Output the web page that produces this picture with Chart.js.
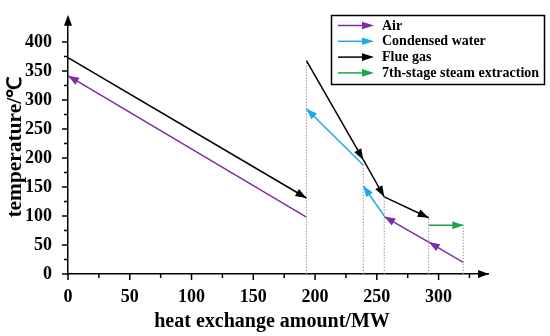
<!DOCTYPE html>
<html>
<head>
<meta charset="utf-8">
<script src="https://cdn.jsdelivr.net/npm/chart.js@4/dist/chart.umd.min.js"></script>
<style>
  html, body { margin: 0; padding: 0; background: #fff; }
  #wrap { width: 550px; height: 336px; }
</style>
</head>
<body>
<div id="wrap"><canvas id="chart"></canvas></div>
<script>
// each segment: [fromX, fromY, toX, toY], arrowhead at the "to" end
const airSegments = [[193, 98, 0, 342], [320, 20, 292, 55], [292, 55, 256, 99]];
const waterSegments = [[239, 188, 193, 285], [256, 100, 239, 152]];
const flueSegments = [[0, 373, 193, 131], [193, 368, 239, 197], [239, 197, 256, 133], [256, 133, 292, 97]];
const steamSegments = [[292, 84, 320, 84]];

// dotted boundary lines between exchangers
const boundaryX = [193, 239, 256, 292, 320];
const boundaryTop = [368, 188, 133, 97, 84];

const xTicks = [0, 50, 100, 150, 200, 250, 300];
const yTicks = [0, 50, 100, 150, 200, 250, 300, 350, 400];

const seriesNames = ['Air', 'Condensed water', 'Flue gas', '7th-stage steam extraction'];
const seriesColors = ['#7d2ea6', '#1ea9e8', '#000000', '#1aa64a'];

const FONT = '"Liberation Serif", "Times New Roman", serif';

const datasets = [];
boundaryX.forEach((x, i) => {
    datasets.push({
        data: [{ x: x, y: 0 }, { x: x, y: boundaryTop[i] }],
        borderColor: '#9a9a9a',
        borderWidth: 1,
        borderDash: [1.5, 1.5],
        showLine: true,
        pointRadius: 0
    });
});
[airSegments, waterSegments, flueSegments, steamSegments].forEach((segs, s) => {
    segs.forEach(seg => {
        datasets.push({
            data: [{ x: seg[0], y: seg[1] }, { x: seg[2], y: seg[3] }],
            borderColor: seriesColors[s],
            borderWidth: 1.5,
            showLine: true,
            pointRadius: 0,
            arrow: true
        });
    });
});

function arrowHead(ctx, x0, y0, x1, y1, color, len, half) {
    const a = Math.atan2(y1 - y0, x1 - x0);
    const bx = x1 - len * Math.cos(a), by = y1 - len * Math.sin(a);
    ctx.beginPath();
    ctx.moveTo(x1, y1);
    ctx.lineTo(bx - half * Math.sin(a), by + half * Math.cos(a));
    ctx.lineTo(bx + half * Math.sin(a), by - half * Math.cos(a));
    ctx.closePath();
    ctx.fillStyle = color;
    ctx.fill();
}

const decorPlugin = {
    id: 'decor',
    afterDatasetsDraw(chart) {
        const ctx = chart.ctx;
        ctx.save();
        chart.data.datasets.forEach((ds, i) => {
            if (!ds.arrow) return;
            const pts = chart.getDatasetMeta(i).data;
            arrowHead(ctx, pts[0].x, pts[0].y, pts[1].x, pts[1].y, ds.borderColor, 11, 4);
        });
        ctx.restore();
    },
    afterDraw(chart) {
        const ctx = chart.ctx;
        const area = chart.chartArea;
        const xs = chart.scales.x, ys = chart.scales.y;
        ctx.save();
        ctx.strokeStyle = '#000';
        ctx.lineWidth = 1.5;

        // tick marks, major every 50, minor every 25
        ctx.beginPath();
        for (let v = 0; v <= 325; v += 25) {
            const px = xs.getPixelForValue(v);
            ctx.moveTo(px, area.bottom);
            ctx.lineTo(px, area.bottom + (v % 50 === 0 ? 6 : 4));
        }
        for (let v = 0; v <= 400; v += 25) {
            const py = ys.getPixelForValue(v);
            ctx.moveTo(area.left, py);
            ctx.lineTo(area.left - (v % 50 === 0 ? 6 : 4), py);
        }
        ctx.stroke();

        // axis arrows
        arrowHead(ctx, area.left, area.bottom, area.right + 1, area.bottom, '#000', 11, 4);
        arrowHead(ctx, area.left, area.bottom, area.left, area.top - 4, '#000', 11, 4);

        // axis titles
        ctx.fillStyle = '#000';
        ctx.font = 'bold 20px ' + FONT;
        ctx.textAlign = 'center';
        ctx.textBaseline = 'middle';
        ctx.fillText('heat exchange amount/MW', 272, 322);
        ctx.save();
        ctx.translate(16, 147);
        ctx.rotate(-Math.PI / 2);
        ctx.scale(1.07, 1);
        ctx.fillText('temperature/℃', 0, 0);
        ctx.restore();

        // legend
        ctx.lineWidth = 1.5;
        ctx.strokeStyle = '#000';
        ctx.strokeRect(331.5, 15.5, 213, 69);
        ctx.font = 'bold 14px ' + FONT;
        ctx.textAlign = 'left';
        seriesNames.forEach((name, i) => {
            const y = 25.5 + i * 15.8;
            ctx.strokeStyle = seriesColors[i];
            ctx.beginPath();
            ctx.moveTo(338, y);
            ctx.lineTo(366, y);
            ctx.stroke();
            arrowHead(ctx, 338, y, 374, y, seriesColors[i], 12, 3.8);
            ctx.fillStyle = '#000';
            ctx.fillText(name, 382, y + 0.5);
        });
        ctx.restore();
    }
};

new Chart(document.getElementById('chart'), {
    type: 'scatter',
    data: { datasets: datasets },
    options: {
        responsive: true,
        maintainAspectRatio: false,
        animation: false,
        layout: { padding: { top: 9, right: 62, left: 0, bottom: 0 } },
        plugins: {
            legend: { display: false },
            tooltip: { enabled: false }
        },
        scales: {
            x: {
                type: 'linear',
                min: 0,
                max: 340,
                grid: { display: false },
                border: { display: true, color: '#000', width: 1.5 },
                afterBuildTicks: scale => { scale.ticks = xTicks.map(v => ({ value: v })); },
                afterFit: scale => { scale.height = 62; },
                ticks: {
                    padding: 5,
                    color: '#000',
                    maxRotation: 0,
                    font: { family: FONT, size: 18, weight: 'bold' }
                }
            },
            y: {
                type: 'linear',
                min: 0,
                max: 440,
                grid: { display: false },
                border: { display: true, color: '#000', width: 1.5 },
                afterBuildTicks: scale => { scale.ticks = yTicks.map(v => ({ value: v })); },
                afterFit: scale => { scale.width = 68; },
                ticks: {
                    padding: 8,
                    color: '#000',
                    font: { family: FONT, size: 18, weight: 'bold' }
                }
            }
        }
    },
    plugins: [decorPlugin]
});
</script>
</body>
</html>
